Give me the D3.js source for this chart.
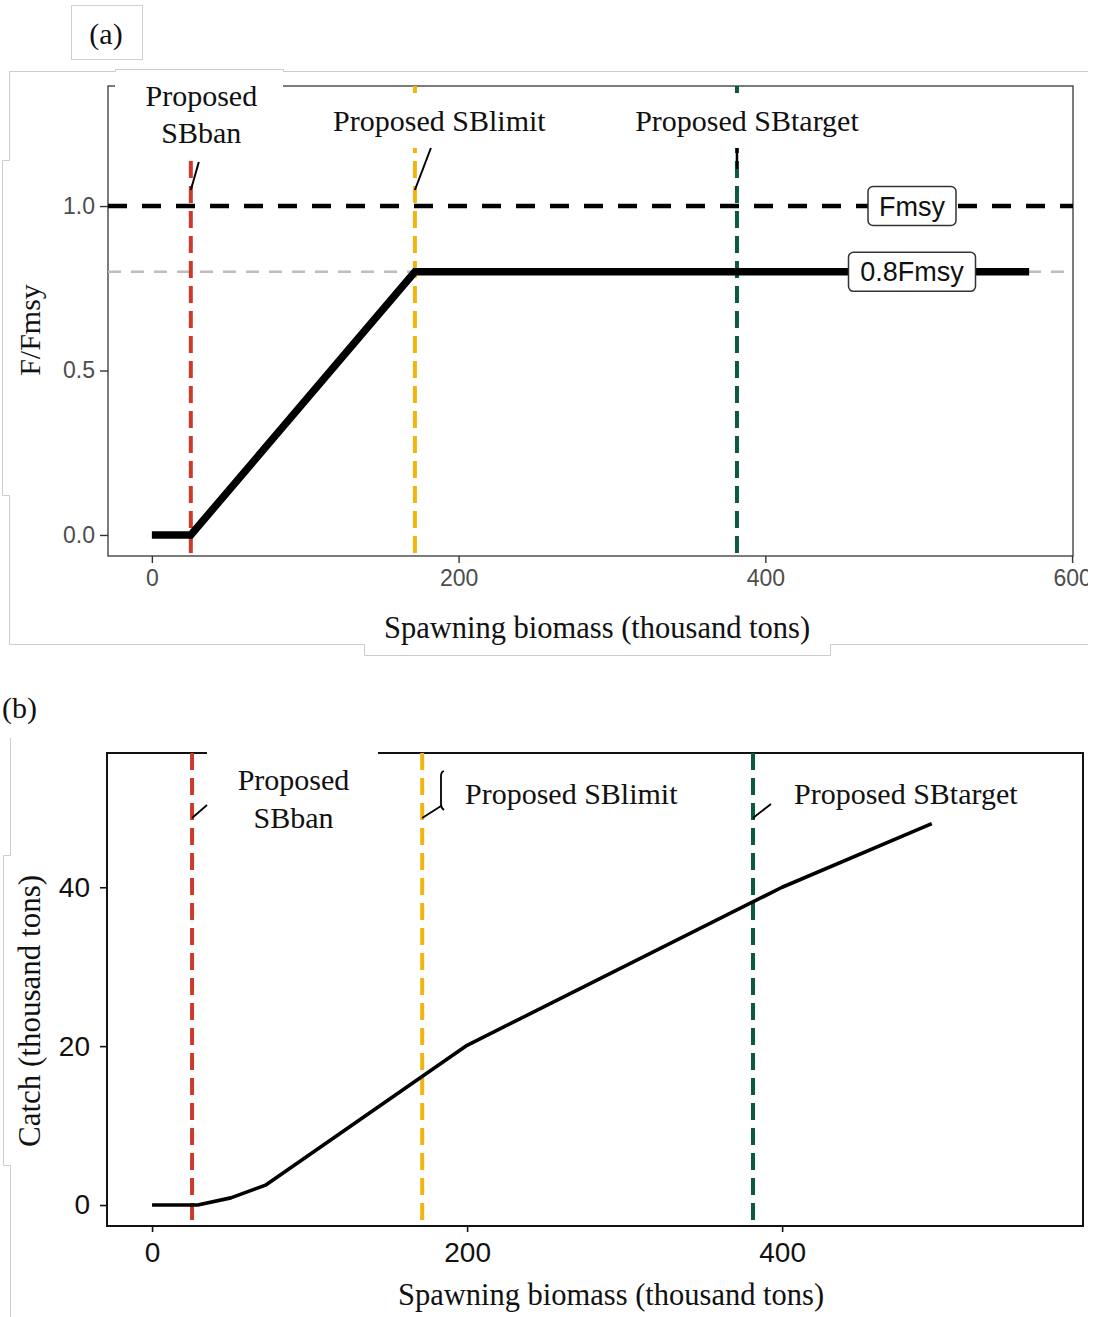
<!DOCTYPE html>
<html><head><meta charset="utf-8">
<script src="https://cdn.jsdelivr.net/npm/d3@7"></script>
<style>
html,body{margin:0;padding:0;background:#fff;}
svg{display:block;}
.serif{font-family:"Liberation Serif","Times New Roman",serif;}
.sans{font-family:"Liberation Sans",Arial,sans-serif;}
</style></head>
<body>
<svg id="chart" width="1097" height="1317"></svg>
<script>
// ---------- data ----------
const refNames  = ["SBban", "SBlimit", "SBtarget"];
const refValues = [25.4, 171.5, 381.5];
const refColors = ["#cc3a2b", "#f0b50f", "#0b5a3c"];

const hcrX = [0, 25.4, 171.5, 572];
const hcrY = [0, 0, 0.8, 0.8];
const fmsyLevels = [1.0, 0.8];
const fmsyLabels = ["Fmsy", "0.8Fmsy"];

const catchX = [0, 29, 50, 72, 200, 400, 495];
const catchY = [0, 0, 0.9, 2.5, 20.1, 40, 48];

const aXTicks = [0, 200, 400, 600];
const aYTicks = [0, 0.5, 1.0];
const bXTicks = [0, 200, 400];
const bYTicks = [0, 20, 40];

// ---------- setup ----------
const svg = d3.select("#chart");
const SERIF = "Liberation Serif, Times New Roman, serif";
const SANS = "Liberation Sans, Arial, sans-serif";

// ================= PANEL A =================
const A = {l:108, r:1073, t:86, b:556};
const xA = d3.scaleLinear().domain([-28.6, 600.6]).range([A.l, A.r]);
const yA = d3.scaleLinear().domain([-0.064, 1.365]).range([A.b, A.t]);
const gA = svg.append("g");

// (a) box
svg.append("rect").attr("x",71.5).attr("y",5.5).attr("width",71).attr("height",54)
  .attr("fill","none").attr("stroke","#cfcfcf").attr("stroke-width",1);
svg.append("text").attr("x",106).attr("y",44).attr("text-anchor","middle")
  .attr("font-family",SERIF).attr("font-size",30).attr("fill","#111").text("(a)");

// panel border
gA.append("rect").attr("x",A.l).attr("y",A.t).attr("width",A.r-A.l).attr("height",A.b-A.t)
  .attr("fill","none").attr("stroke","#444").attr("stroke-width",1.4);

// axes
const axAx = gA.append("g").attr("transform",`translate(0,${A.b})`)
  .call(d3.axisBottom(xA).tickValues(aXTicks).tickSize(7).tickPadding(7).tickFormat(d3.format("d")));
const axAy = gA.append("g").attr("transform",`translate(${A.l},0)`)
  .call(d3.axisLeft(yA).tickValues(aYTicks).tickSize(8).tickPadding(5).tickFormat(d3.format(".1f")));
[axAx, axAy].forEach(ax=>{
  ax.select(".domain").remove();
  ax.selectAll(".tick line").attr("stroke","#333").attr("stroke-width",1.4);
  ax.selectAll(".tick text").attr("font-family",SANS).attr("font-size",23).attr("fill","#4d4d4d");
});

// horizontal reference lines
gA.append("line").attr("x1",A.l).attr("x2",A.r).attr("y1",yA(0.8)).attr("y2",yA(0.8))
  .attr("stroke","#bdbdbd").attr("stroke-width",2.5).attr("stroke-dasharray","13,10");
gA.append("line").attr("x1",A.l).attr("x2",A.r).attr("y1",yA(1.0)).attr("y2",yA(1.0))
  .attr("stroke","#000").attr("stroke-width",4.5).attr("stroke-dasharray","19,15");

// vertical reference lines
refValues.forEach((v,i)=>{
  gA.append("line").attr("x1",xA(v)).attr("x2",xA(v)).attr("y1",A.t).attr("y2",A.b)
    .attr("stroke",refColors[i]).attr("stroke-width",4).attr("stroke-dasharray","17,8");
});

// HCR line
gA.append("path").datum(hcrX.map((x,i)=>[x,hcrY[i]]))
  .attr("d", d3.line().x(d=>xA(d[0])).y(d=>yA(d[1])))
  .attr("fill","none").attr("stroke","#000").attr("stroke-width",7.5).attr("stroke-linejoin","miter");

// label backgrounds
gA.append("rect").attr("x",115).attr("y",69).attr("width",168).attr("height",91).attr("fill","#fff");
gA.append("rect").attr("x",325).attr("y",93).attr("width",228).attr("height",55).attr("fill","#fff");
gA.append("rect").attr("x",628).attr("y",93).attr("width",236).attr("height",55).attr("fill","#fff");

// labels
const labA = gA.append("g").attr("font-family",SERIF).attr("font-size",30).attr("fill","#111");
labA.append("text").attr("x",xA(refValues[0])+10.5).attr("y",106).attr("text-anchor","middle").text("Proposed");
labA.append("text").attr("x",xA(refValues[0])+10.5).attr("y",143).attr("text-anchor","middle").text(refNames[0]);
labA.append("text").attr("x",xA(refValues[1])+24.5).attr("y",131).attr("text-anchor","middle").text("Proposed " + refNames[1]);
labA.append("text").attr("x",xA(refValues[2])+10).attr("y",131).attr("text-anchor","middle").text("Proposed " + refNames[2]);

// leaders
const leadA = gA.append("g").attr("stroke","#000").attr("fill","none");
leadA.append("line").attr("x1",xA(refValues[0])+8).attr("y1",162).attr("x2",xA(refValues[0])).attr("y2",190).attr("stroke-width",2);
leadA.append("line").attr("x1",xA(refValues[1])+16).attr("y1",148).attr("x2",xA(refValues[1])).attr("y2",190).attr("stroke-width",2);
leadA.append("line").attr("x1",xA(refValues[2])).attr("y1",148).attr("x2",xA(refValues[2])).attr("y2",169).attr("stroke-width",2.5);

// Fmsy labels
const boxes = [{w:88,h:39},{w:127,h:39}];
fmsyLevels.forEach((lv,i)=>{
  const cx = 912, cy = yA(lv);
  gA.append("rect").attr("x",cx-boxes[i].w/2).attr("y",cy-boxes[i].h/2)
    .attr("width",boxes[i].w).attr("height",boxes[i].h).attr("rx",5)
    .attr("fill","#fff").attr("stroke","#333").attr("stroke-width",1.5);
  gA.append("text").attr("x",cx).attr("y",cy+9.5).attr("text-anchor","middle")
    .attr("font-family",SANS).attr("font-size",27).attr("fill","#111").text(fmsyLabels[i]);
});

// axis titles
gA.append("text").attr("x",597).attr("y",638).attr("text-anchor","middle")
  .attr("font-family",SERIF).attr("font-size",30.5).attr("fill","#111").text("Spawning biomass (thousand tons)");
gA.append("text").attr("transform","translate(40,330) rotate(-90)").attr("text-anchor","middle")
  .attr("font-family",SERIF).attr("font-size",30).attr("fill","#111").text("F/Fmsy");

// clip right edge
svg.append("rect").attr("x",1088).attr("y",560).attr("width",9).attr("height",45).attr("fill","#fff");

// frame artifacts
svg.append("path").attr("d","M9.5,71.5 H115.5 V69.5 H283.5 V71.5 H1088 M9.5,71.5 V160.5 H2.5 V495.5 H9.5 V644.5 H364.5 V655.5 H830.5 V644.5 H1088")
  .attr("fill","none").attr("stroke","#cccccc").attr("stroke-width",1);

// ================= PANEL B =================
const B = {l:107, r:1083, t:753, b:1226};
const xB = d3.scaleLinear().domain([-28.6, 591]).range([B.l, B.r]);
const yB = d3.scaleLinear().domain([-2.64, 56.9]).range([B.b, B.t]);
const gB = svg.append("g");

svg.append("text").attr("x",2).attr("y",718).attr("font-family",SERIF).attr("font-size",30).attr("fill","#111").text("(b)");

gB.append("rect").attr("x",B.l).attr("y",B.t).attr("width",B.r-B.l).attr("height",B.b-B.t)
  .attr("fill","none").attr("stroke","#111").attr("stroke-width",2);

const axBx = gB.append("g").attr("transform",`translate(0,${B.b})`)
  .call(d3.axisBottom(xB).tickValues(bXTicks).tickSize(6).tickPadding(10).tickFormat(d3.format("d")));
const axBy = gB.append("g").attr("transform",`translate(${B.l},0)`)
  .call(d3.axisLeft(yB).tickValues(bYTicks).tickSize(7).tickPadding(10).tickFormat(d3.format("d")));
[axBx, axBy].forEach(ax=>{
  ax.select(".domain").remove();
  ax.selectAll(".tick line").attr("stroke","#111").attr("stroke-width",1.6);
  ax.selectAll(".tick text").attr("font-family",SANS).attr("font-size",28).attr("fill","#111");
});

refValues.forEach((v,i)=>{
  gB.append("line").attr("x1",xB(v)).attr("x2",xB(v)).attr("y1",B.t).attr("y2",B.b)
    .attr("stroke",refColors[i]).attr("stroke-width",4).attr("stroke-dasharray","17,8");
});

gB.append("path").datum(catchX.map((x,i)=>[x,catchY[i]]))
  .attr("d", d3.line().x(d=>xB(d[0])).y(d=>yB(d[1])))
  .attr("fill","none").attr("stroke","#000").attr("stroke-width",3.6).attr("stroke-linejoin","round");

gB.append("rect").attr("x",207).attr("y",745).attr("width",171).attr("height",92).attr("fill","#fff");

const labB = gB.append("g").attr("font-family",SERIF).attr("font-size",30).attr("fill","#111");
labB.append("text").attr("x",293.5).attr("y",790).attr("text-anchor","middle").text("Proposed");
labB.append("text").attr("x",293.5).attr("y",828).attr("text-anchor","middle").text(refNames[0]);
labB.append("text").attr("x",465).attr("y",804).text("Proposed " + refNames[1]);
labB.append("text").attr("x",794).attr("y",804).text("Proposed " + refNames[2]);

const leadB = gB.append("g").attr("stroke","#000").attr("fill","none").attr("stroke-width",1.8);
leadB.append("path").attr("d",`M207,805 L${xB(refValues[0])},818`);
leadB.append("path").attr("d",`M444,771 Q441,772 441,776 V804 Q441,808 444,810 M441,806 L${xB(refValues[1])},818`);
leadB.append("path").attr("d",`M771,804 L${xB(refValues[2])},818`);

gB.append("text").attr("x",611).attr("y",1305).attr("text-anchor","middle")
  .attr("font-family",SERIF).attr("font-size",30.5).attr("fill","#111").text("Spawning biomass (thousand tons)");
gB.append("text").attr("transform","translate(40,1011) rotate(-90)").attr("text-anchor","middle")
  .attr("font-family",SERIF).attr("font-size",31).attr("fill","#111").text("Catch (thousand tons)");

svg.append("path").attr("d","M10.5,738 V855.5 H3.5 V1165.5 H10.5 V1317")
  .attr("fill","none").attr("stroke","#cccccc").attr("stroke-width",1);
</script>
</body></html>
